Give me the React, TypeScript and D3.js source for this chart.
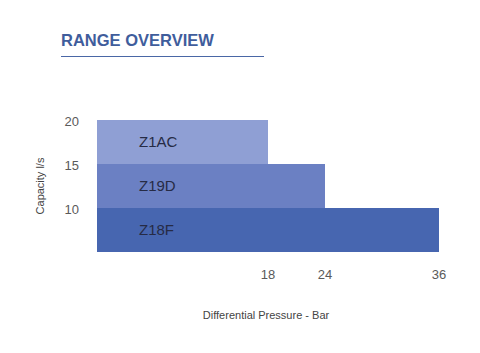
import { useEffect, useRef } from "react";
import * as d3 from "d3";

const models = ["Z1AC", "Z19D", "Z18F"];
const maxPressure = [18, 24, 36];
const capTop = [20, 15, 10];
const capBottom = [15, 10, 5];
const yTicks = [20, 15, 10];
const xTicks = [18, 24, 36];
const colors = ["#8f9fd4", "#6b80c3", "#4766b0"];

const App = () => {
    const svgRef = useRef<SVGSVGElement>(null);

    useEffect(() => {
        const svg = d3.select(svgRef.current);
        svg.selectAll("*").remove();

        const width = 480;
        const height = 353;
        svg.attr("width", width).attr("height", height);

        const x = d3.scaleLinear().domain([0, 36]).range([97, 439]);
        const y = d3.scaleLinear().domain([5, 20]).range([252, 120]);

        // title
        svg.append("text")
            .attr("x", 61)
            .attr("y", 46)
            .attr("font-family", "Liberation Sans, Arial, sans-serif")
            .attr("font-weight", "bold")
            .attr("font-size", 16.5)
            .attr("fill", "#3f5d9c")
            .text("RANGE OVERVIEW");
        svg.append("line")
            .attr("x1", 61)
            .attr("x2", 264)
            .attr("y1", 56.5)
            .attr("y2", 56.5)
            .attr("stroke", "#4a67a6")
            .attr("stroke-width", 1);

        const data = models.map((m, i) => ({
            name: m,
            p: maxPressure[i],
            top: capTop[i],
            bottom: capBottom[i],
            color: colors[i],
        }));

        svg.selectAll(".bar")
            .data(data)
            .enter()
            .append("rect")
            .attr("x", x(0))
            .attr("y", (d) => y(d.top))
            .attr("width", (d) => x(d.p) - x(0))
            .attr("height", (d) => y(d.bottom) - y(d.top))
            .attr("fill", (d) => d.color);

        svg.selectAll(".lbl")
            .data(data)
            .enter()
            .append("text")
            .attr("x", 139)
            .attr("y", (d) => (y(d.top) + y(d.bottom)) / 2 + 5)
            .attr("font-family", "Liberation Sans, Arial, sans-serif")
            .attr("font-size", 15)
            .attr("fill", "#262b45")
            .text((d) => d.name);

        svg.selectAll(".yt")
            .data(yTicks)
            .enter()
            .append("text")
            .attr("x", 79)
            .attr("y", (d) => y(d) + 6)
            .attr("text-anchor", "end")
            .attr("font-family", "Liberation Sans, Arial, sans-serif")
            .attr("font-size", 13)
            .attr("fill", "#5a5a5a")
            .text((d) => d);

        svg.selectAll(".xt")
            .data(xTicks)
            .enter()
            .append("text")
            .attr("x", (d) => x(d))
            .attr("y", 279)
            .attr("text-anchor", "middle")
            .attr("font-family", "Liberation Sans, Arial, sans-serif")
            .attr("font-size", 13)
            .attr("fill", "#5a5a5a")
            .text((d) => d);

        svg.append("text")
            .attr("x", 266)
            .attr("y", 319)
            .attr("text-anchor", "middle")
            .attr("font-family", "Liberation Sans, Arial, sans-serif")
            .attr("font-size", 11)
            .attr("fill", "#444")
            .text("Differential Pressure - Bar");

        svg.append("text")
            .attr("transform", "translate(44,186) rotate(-90)")
            .attr("text-anchor", "middle")
            .attr("font-family", "Liberation Sans, Arial, sans-serif")
            .attr("font-size", 11)
            .attr("fill", "#444")
            .text("Capacity l/s");
    }, []);

    return <svg ref={svgRef} style={{ position: "absolute", left: 0, top: 0 }} />;
};

export default App;
